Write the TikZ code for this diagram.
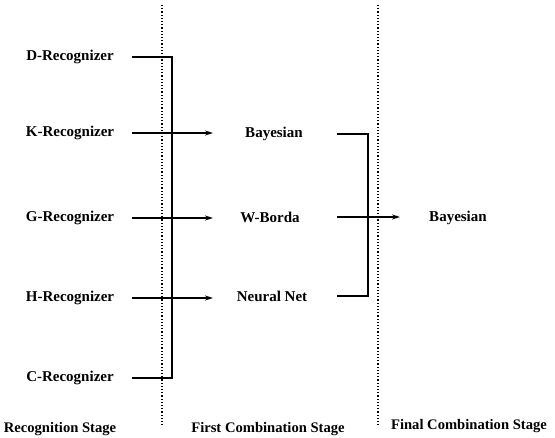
\documentclass[tikz,border=0pt]{standalone}
\usepackage{fontspec}
\setmainfont{Liberation Serif}
\usetikzlibrary{arrows.meta}
\begin{document}
\begin{tikzpicture}[x=1pt,y=-1pt,
  lbl/.style={font=\fontsize{15}{17}\selectfont\bfseries, inner sep=0pt},
  stg/.style={font=\fontsize{14.6}{16}\selectfont\bfseries, inner sep=0pt},
  wire/.style={line width=1.3pt},
  arr/.style={line width=1.3pt,-{Stealth[length=8pt,width=5pt]}},
  sep/.style={line width=1.2pt, dotted}]
\useasboundingbox (0,0) rectangle (555,438);
% separators
\coordinate (s1t) at (162,5); \coordinate (s1b) at (162,425);
\coordinate (s2t) at (378,5); \coordinate (s2b) at (378,425);
\draw[sep] (s1t) -- (s1b);
\draw[sep] (s2t) -- (s2b);
% recognizers
\node[lbl] (d) at (70,57) {D-Recognizer};
\node[lbl] (k) at (70,133) {K-Recognizer};
\node[lbl] (g) at (70,218) {G-Recognizer};
\node[lbl] (h) at (70,298) {H-Recognizer};
\node[lbl] (c) at (70,378) {C-Recognizer};
% combiners
\node[lbl] (b1) at (274,134) {Bayesian};
\node[lbl] (wb) at (270,217) {W-Borda};
\node[lbl] (nn) at (272,296) {Neural Net};
\node[lbl] (b2) at (458,218) {Bayesian};
% coordinates
\coordinate (dl) at (132,57); \coordinate (dr) at (172,57);
\coordinate (cl) at (132,378); \coordinate (cr) at (172,378);
\coordinate (kl) at (132,133); \coordinate (ke) at (213,133);
\coordinate (gl) at (132,218); \coordinate (ge) at (213,218);
\coordinate (hl) at (132,298); \coordinate (he) at (213,298);
\draw[wire] (dl) -- (dr) -- (cr) -- (cl);
\draw[arr] (kl) -- (ke);
\draw[arr] (gl) -- (ge);
\draw[arr] (hl) -- (he);
\coordinate (b1l) at (337,134); \coordinate (b1r) at (368,134);
\coordinate (nnl) at (337,296); \coordinate (nnr) at (368,296);
\coordinate (wbl) at (337,217); \coordinate (wbe) at (400,217);
\draw[wire] (b1l) -- (b1r) -- (nnr) -- (nnl);
\draw[arr] (wbl) -- (wbe);
% stage labels
\node[stg] (st1) at (60,429) {Recognition Stage};
\node[stg] (st2) at (268,429) {First Combination Stage};
\node[stg] (st3) at (469,426) {Final Combination Stage};
\end{tikzpicture}
\end{document}
